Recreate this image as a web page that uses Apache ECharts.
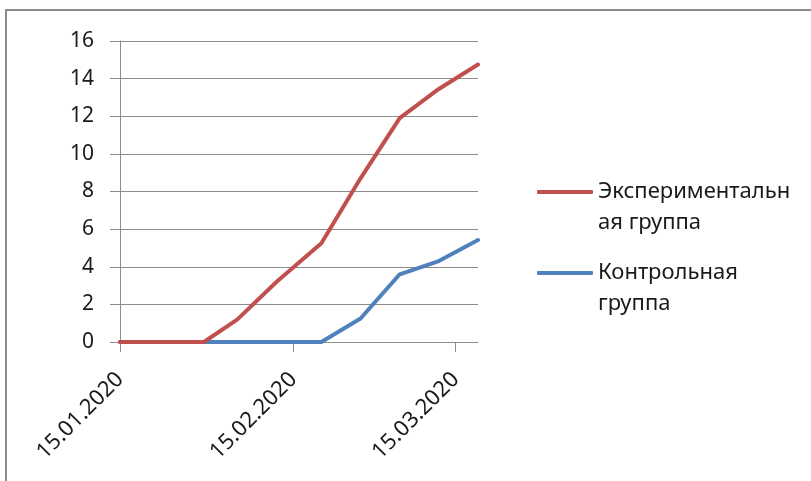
<!DOCTYPE html>
<html>
<head>
<meta charset="utf-8">
<script src="https://cdn.jsdelivr.net/npm/echarts@6/dist/echarts.min.js"></script>
<style>
  html, body { margin: 0; padding: 0; background: #fff; }
  #chart { width: 811px; height: 481px; }
</style>
</head>
<body>
<div id="chart"></div>
<script>
// Measurement dates (dd.mm.yyyy)
const dates = ['15.01.2020', '22.01.2020', '30.01.2020', '05.02.2020', '12.02.2020',
               '20.02.2020', '27.02.2020', '05.03.2020', '12.03.2020', '19.03.2020'];
// Series values
const experimental = [0, 0, 0, 1.2, 3.2, 5.25, 8.7, 11.9, 13.45, 14.75];
const control      = [0, 0, 0, 0,   0,   0,    1.25, 3.6, 4.3, 5.42];
// Series names and how they wrap in the legend
const seriesNames = ['Экспериментальная группа', 'Контрольная группа'];
const legendText = ['Экспериментальн\nая группа', 'Контрольная\nгруппа'];
// Date-axis tick labels
const xTickLabels = ['15.01.2020', '15.02.2020', '15.03.2020'];
// Value-axis range
const yMin = 0, yMax = 16, yStep = 2;

const FONT = '"Noto Sans", "DejaVu Sans", sans-serif';
const DAY = 86400000;

// Dates are placed on a linear day scale (days since the first date)
function parseDate(s) {
  const [d, m, y] = s.split('.').map(Number);
  return Date.UTC(y, m - 1, d);
}
const t0 = parseDate(dates[0]);
const toDay = s => Math.round((parseDate(s) - t0) / DAY);
function fmtDay(v) {
  const dt = new Date(t0 + v * DAY);
  const p = n => String(n).padStart(2, '0');
  return p(dt.getUTCDate()) + '.' + p(dt.getUTCMonth() + 1) + '.' + dt.getUTCFullYear();
}

const days = dates.map(toDay);
const tickDays = xTickLabels.map(toDay);
const expData = days.map((d, i) => [d, experimental[i]]);
const ctlData = days.map((d, i) => [d, control[i]]);

const chart = echarts.init(document.getElementById('chart'), null, { renderer: 'canvas' });

chart.setOption({
  backgroundColor: '#ffffff',
  animation: false,
  graphic: [{
    type: 'rect',
    shape: { x: 6, y: 10, width: 900, height: 600 },
    style: { fill: 'none', stroke: '#8c8c8c', lineWidth: 2 },
    silent: true,
    z: -1
  }],
  grid: { left: 120, right: 333, top: 41, bottom: 139, containLabel: false },
  legend: {
    orient: 'vertical',
    left: 537,
    top: 145.5,
    padding: 0,
    itemGap: -12,
    itemWidth: 56,
    itemHeight: 4,
    icon: 'roundRect',
    data: seriesNames,
    // a leading blank line keeps the first text line level with the icon
    formatter: name => '\n' + legendText[seriesNames.indexOf(name)],
    textStyle: {
      fontFamily: FONT,
      fontSize: 22,
      lineHeight: 31,
      color: '#1a1a1a'
    }
  },
  xAxis: {
    type: 'value',
    min: days[0],
    max: days[days.length - 1],
    splitLine: { show: false },
    axisLine: { show: true, lineStyle: { color: '#8c8c8c', width: 1 } },
    axisTick: {
      show: true,
      customValues: tickDays,
      length: 10,
      lineStyle: { color: '#8c8c8c', width: 1 }
    },
    axisLabel: {
      customValues: tickDays,
      rotate: 45,
      margin: 34,
      formatter: v => fmtDay(v),
      fontFamily: FONT,
      fontSize: 22,
      color: '#1a1a1a',
      hideOverlap: false
    }
  },
  yAxis: {
    type: 'value',
    min: yMin,
    max: yMax,
    interval: yStep,
    axisLine: { show: true, lineStyle: { color: '#8c8c8c', width: 1 } },
    axisTick: { show: true, length: 10, lineStyle: { color: '#8c8c8c', width: 1 } },
    splitLine: { show: true, lineStyle: { color: '#8c8c8c', width: 1 } },
    axisLabel: {
      margin: 26,
      fontFamily: FONT,
      fontSize: 21,
      color: '#1a1a1a'
    }
  },
  series: [
    {
      name: seriesNames[0],
      type: 'line',
      data: expData,
      showSymbol: false,
      color: '#c0504d',
      z: 4,
      lineStyle: { width: 4, color: '#c0504d', cap: 'round', join: 'round' }
    },
    {
      name: seriesNames[1],
      type: 'line',
      data: ctlData,
      showSymbol: false,
      color: '#4f81bd',
      z: 3,
      lineStyle: { width: 4, color: '#4f81bd', cap: 'round', join: 'round' }
    }
  ]
});
</script>
</body>
</html>
